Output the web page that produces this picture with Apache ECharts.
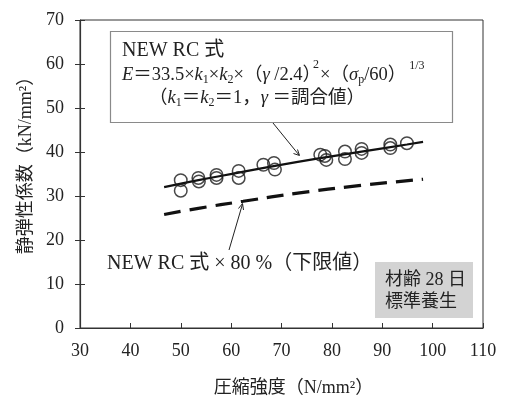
<!DOCTYPE html>
<html>
<head>
<meta charset="utf-8">
<script src="https://cdn.jsdelivr.net/npm/echarts@6/dist/echarts.min.js"></script>
<style>
  html, body { margin: 0; padding: 0; background: #fff; }
  #chart { width: 507px; height: 397px; }
</style>
</head>
<body>
<div id="chart"></div>
<script>
// Measured specimens: compressive strength (N/mm²) vs. static modulus (kN/mm²)
const strength = [50.0, 50.0, 53.5, 53.6, 57.1, 57.1, 61.5, 61.5, 66.4, 68.5, 68.7,
                  77.7, 78.6, 78.9, 82.6, 82.6, 85.9, 85.9, 91.6, 91.6, 94.9];
const modulus  = [33.6, 31.2, 34.1, 33.3, 34.8, 34.1, 35.7, 34.1, 37.1, 37.5, 36.0,
                  39.4, 39.1, 38.2, 40.1, 38.4, 40.7, 39.8, 41.7, 40.9, 42.0];

// NEW RC formula curve
const curveX = [46.7, 53.5, 61.5, 69.0, 77.7, 85.9, 94.9, 98.1];
const curveY = [32.0, 33.6, 35.3, 36.9, 38.6, 40.1, 41.7, 42.3];

// 80 % of the formula (lower limit)
const lowerX = [46.7, 53.5, 62.4, 73.6, 84.9, 98.1];
const lowerY = [25.8, 27.2, 28.8, 30.7, 32.3, 33.8];

const xTicks = { min: 30, max: 110, step: 10 };
const yTicks = { min: 0, max: 70, step: 10 };

const SERIF = "'Liberation Serif', 'Noto Sans CJK JP', serif";
const INK = '#222';

const pairs = (xs, ys) => xs.map((x, i) => [x, ys[i]]);

// Lay out a run of text pieces left to right (for sub/superscripts).
// piece: [text, fontSize, italic, dy, dx]
const measureCtx = document.createElement('canvas').getContext('2d');
function textRun(x0, yMid, pieces) {
  const out = [];
  let x = x0;
  pieces.forEach(([t, size, italic, dy, dx]) => {
    const font = (italic ? 'italic ' : '') + size + 'px ' + SERIF;
    measureCtx.font = font;
    x += dx || 0;
    out.push({ type: 'text', x: x, y: yMid + (dy || 0), z: 11,
               style: { text: t, font: font, fill: INK, verticalAlign: 'middle' } });
    x += measureCtx.measureText(t).width;
  });
  return out;
}

const M = 18.5, S = 12;
const formulaLine = textRun(122, 75, [
  ['E', M, true], ['＝33.5×', M], ['k', M, true], ['1', S, false, 5], ['×', M],
  ['k', M, true], ['2', S, false, 5], ['×（', M], ['γ', M, true], [' /2.4）', M],
  ['2', S, false, -10, -8], ['×（', M, false, 0, 1], ['σ', M, true], ['p', S, false, 5], ['/60）', M],
  [' 1/3', S, false, -9]
]);
const conditionLine = textRun(149, 98, [
  ['（', M], ['k', M, true], ['1', S, false, 5], ['＝', M], ['k', M, true], ['2', S, false, 5],
  ['＝1，', M], ['γ', M, true], [' ＝調合値）', M]
]);

const chart = echarts.init(document.getElementById('chart'), null, { renderer: 'canvas' });

const axisLabel = { color: INK, fontFamily: SERIF, fontSize: 18 };

chart.setOption({
  animation: false,
  backgroundColor: '#fff',
  grid: {
    left: 80, right: 24, top: 20, bottom: 69, outerBoundsMode: 'none', containLabel: false,
    show: true, borderColor: '#333', borderWidth: 1, backgroundColor: 'transparent'
  },
  xAxis: {
    type: 'value', min: xTicks.min, max: xTicks.max, interval: xTicks.step,
    name: '圧縮強度（N/mm²）', nameLocation: 'middle', nameGap: 51,
    nameTextStyle: { color: INK, fontFamily: SERIF, fontSize: 18, padding: [0, 0, 0, 24] },
    axisLine: { lineStyle: { color: '#333', width: 1.2 } },
    axisTick: { inside: true, length: 5, lineStyle: { color: '#333' } },
    axisLabel: Object.assign({ margin: 14 }, axisLabel),
    splitLine: { show: false }
  },
  yAxis: [{
    type: 'value', min: yTicks.min, max: yTicks.max, interval: yTicks.step,
    name: '静弾性係数（kN/mm²）', nameLocation: 'middle', nameGap: 43, nameRotate: 90,
    nameTextStyle: { color: INK, fontFamily: SERIF, fontSize: 18, padding: [0, 0, 0, 26] },
    axisLine: { lineStyle: { color: '#333', width: 1.2 } },
    axisTick: { length: 5, lineStyle: { color: '#333' } },
    axisLabel: Object.assign({ margin: 16 }, axisLabel),
    splitLine: { show: false }
  }, {
    type: 'value', min: yTicks.min, max: yTicks.max, interval: yTicks.step,
    position: 'left', offset: 0,
    axisLine: { show: false },
    axisTick: { inside: true, length: 5, lineStyle: { color: '#333' } },
    axisLabel: { show: false },
    splitLine: { show: false }
  }],
  series: [
    {
      type: 'line', data: pairs(curveX, curveY), showSymbol: false, smooth: true,
      lineStyle: { color: '#111', width: 2.2 }, z: 2
    },
    {
      type: 'line', data: pairs(lowerX, lowerY), showSymbol: false, smooth: true,
      lineStyle: { color: '#111', width: 3.2, type: [17, 9] }, z: 2
    },
    {
      type: 'scatter', data: pairs(strength, modulus), symbol: 'circle', symbolSize: 12.5,
      itemStyle: { color: 'rgba(0,0,0,0)', borderColor: '#1a1a1a', borderWidth: 1.5 }, z: 3
    }
  ],
  graphic: [
    // formula box
    { type: 'rect', shape: { x: 110.5, y: 31.5, width: 342, height: 91 },
      style: { fill: '#fff', stroke: '#8a8a8a', lineWidth: 1.2 }, z: 10 },
    { type: 'text', x: 122, y: 51, z: 11,
      style: { text: 'NEW RC 式', fill: INK, font: '20px ' + SERIF, verticalAlign: 'middle' } }
  ].concat(formulaLine, conditionLine, [
    // pointer to the formula curve
    { type: 'line', shape: { x1: 273, y1: 123, x2: 299, y2: 155 }, style: { stroke: '#222', lineWidth: 1 }, z: 11 },
    { type: 'polyline', shape: { points: [[293.5, 153.5], [299.5, 155.5], [297.5, 149.5]] },
      style: { stroke: '#222', lineWidth: 1, fill: null }, z: 11 },
    // pointer to the lower-limit line
    { type: 'line', shape: { x1: 229, y1: 250, x2: 242.5, y2: 204 }, style: { stroke: '#222', lineWidth: 1 }, z: 11 },
    { type: 'polyline', shape: { points: [[238.5, 208.5], [242.5, 203.5], [243.5, 210]] },
      style: { stroke: '#222', lineWidth: 1, fill: null }, z: 11 },
    { type: 'text', x: 107, y: 264, z: 11,
      style: { text: 'NEW RC 式 × 80 %（下限値）', fill: INK, font: '20px ' + SERIF, verticalAlign: 'middle' } },
    // curing note
    { type: 'rect', shape: { x: 375, y: 262, width: 98, height: 56 }, style: { fill: '#d3d3d3' }, z: 10 },
    { type: 'text', x: 385, y: 280, z: 11,
      style: { text: '材齢 28 日', fill: INK, font: '18px ' + SERIF, verticalAlign: 'middle' } },
    { type: 'text', x: 385, y: 302, z: 11,
      style: { text: '標準養生', fill: INK, font: '18px ' + SERIF, verticalAlign: 'middle' } }
  ])
});
</script>
</body>
</html>
